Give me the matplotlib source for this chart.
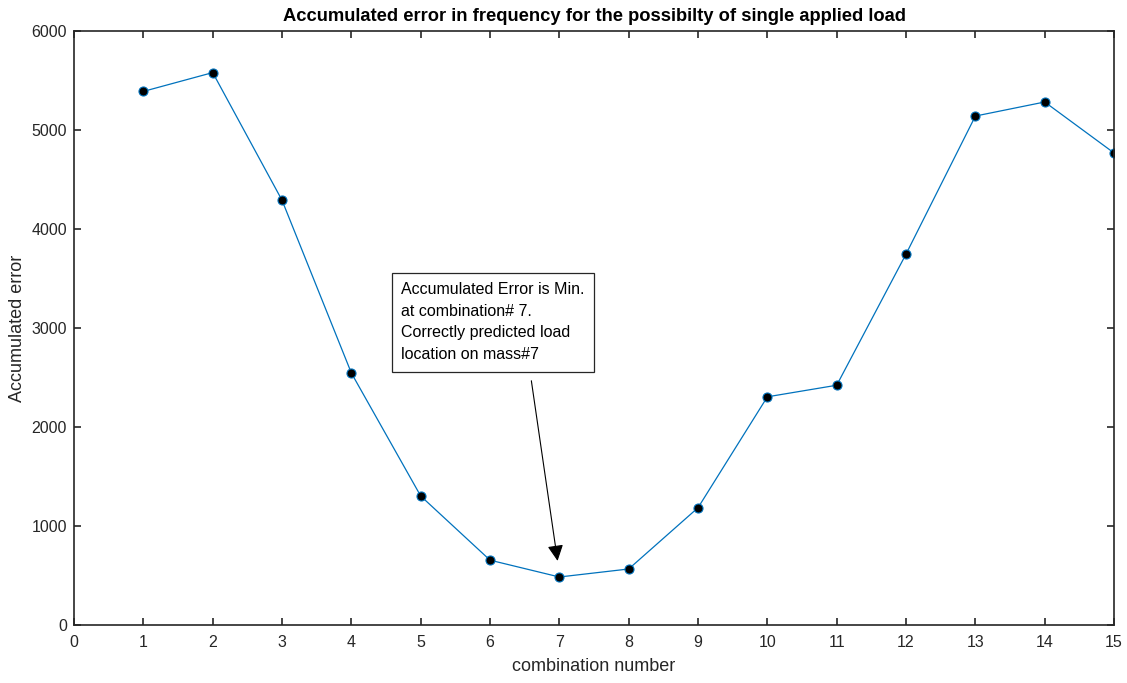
import numpy as np
import matplotlib
matplotlib.use("Agg")
import matplotlib.pyplot as plt

plt.rcParams['font.family'] = ['Liberation Sans', 'DejaVu Sans']

combination = [1, 2, 3, 4, 5, 6, 7, 8, 9, 10, 11, 12, 13, 14, 15]
acc_error = [5390, 5580, 4290, 2545, 1303, 655, 485, 566, 1185, 2305, 2422, 3747, 5141, 5283, 4768]

fig = plt.figure(figsize=(11.27, 6.83), dpi=100)
ax = fig.add_axes([0.0657, 0.0849, 0.9228, 0.8697])

ax.plot(combination, acc_error, color='#0072BD', linewidth=0.9,
        marker='o', markersize=6.5, markerfacecolor='black', markeredgecolor='#0072BD',
        markeredgewidth=0.8)

ax.set_xlim(0, 15)
ax.set_ylim(0, 6000)
ax.set_xticks(range(0, 16))
ax.set_yticks(range(0, 6001, 1000))
ax.tick_params(direction='in', top=True, right=True, length=5, width=1.2,
               labelsize=11.5, colors='#262626', pad=7)
ax.tick_params(axis='y', pad=5)
for s in ax.spines.values():
    s.set_linewidth(1.2)
    s.set_color('#262626')

ax.set_xlabel("combination number", fontsize=13, color='#262626', labelpad=6)
ax.set_ylabel("Accumulated error", fontsize=13, color='#262626', labelpad=4)
ax.set_title("Accumulated error in frequency for the possibilty of single applied load",
             fontsize=13.2, fontweight='bold', pad=7)

ax.annotate("", xy=(6.98, 620), xytext=(6.59, 2495),
            arrowprops=dict(arrowstyle='-|>', color='black', lw=0.8,
                            mutation_scale=24))
ax.text(4.72, 3060, "Accumulated Error is Min.\nat combination# 7.\nCorrectly predicted load\nlocation on mass#7",
        fontsize=11.5, va='center', ha='left', linespacing=1.55,
        bbox=dict(boxstyle='square,pad=0.6', facecolor='white', edgecolor='#262626', linewidth=0.9))

fig.savefig("out.png", dpi=100)
